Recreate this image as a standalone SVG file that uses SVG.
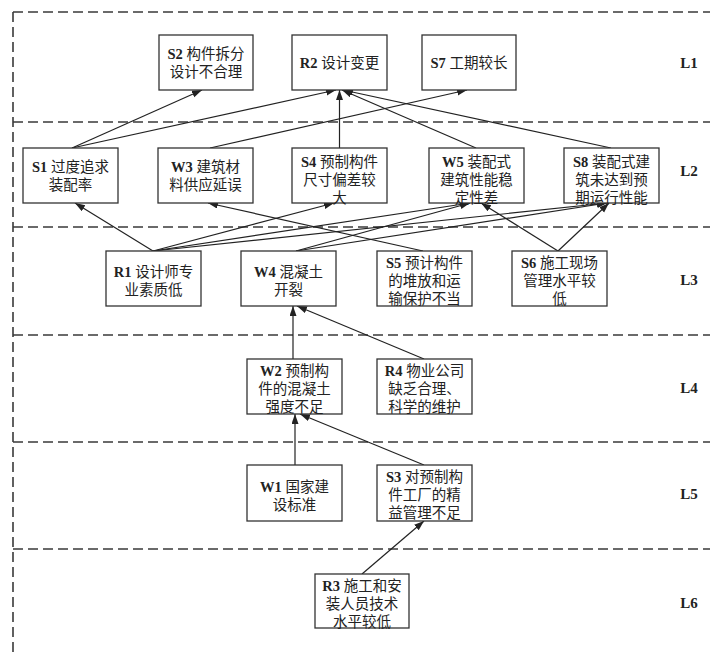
<svg xmlns="http://www.w3.org/2000/svg" width="710" height="654" viewBox="0 0 710 654">
<style>
.bg{fill:#fff}
.band{fill:none;stroke:#3a3a3a;stroke-width:1.6;stroke-dasharray:10,5}
.box{fill:#fff;stroke:#333;stroke-width:1.3}
.t{font-family:"Liberation Serif","Noto Sans CJK SC",serif;font-size:14.5px;fill:#222;text-anchor:middle}
.b{font-weight:bold}
.lv{font-family:"Liberation Serif",serif;font-size:15px;font-weight:bold;fill:#222;text-anchor:middle}
.c line{stroke:#222;stroke-width:1.2;marker-end:url(#arr)}
</style>
<defs>
<marker id="arr" markerUnits="userSpaceOnUse" markerWidth="10" markerHeight="8" refX="10" refY="3.5" orient="auto">
<path d="M0,0 L10,3.5 L0,7 z" fill="#222"/>
</marker>
</defs>
<rect class="bg" x="0" y="0" width="710" height="654"/>
<g id="bands">
<line class="band" x1="13" y1="12" x2="13" y2="654"/>
<line class="band" x1="13" y1="12" x2="710" y2="12"/>
<line class="band" x1="13" y1="122" x2="710" y2="122"/>
<line class="band" x1="13" y1="227" x2="710" y2="227"/>
<line class="band" x1="13" y1="335" x2="710" y2="335"/>
<line class="band" x1="13" y1="442" x2="710" y2="442"/>
<line class="band" x1="13" y1="549" x2="710" y2="549"/>
<text class="lv" x="689" y="68">L1</text>
<text class="lv" x="689" y="176">L2</text>
<text class="lv" x="689" y="285">L3</text>
<text class="lv" x="689" y="393">L4</text>
<text class="lv" x="689" y="499">L5</text>
<text class="lv" x="689" y="608">L6</text>
</g>
<g id="connectors" class="c">
<line x1="72" y1="148" x2="202" y2="90"/>
<line x1="72" y1="148" x2="336" y2="90"/>
<line x1="210" y1="148" x2="467" y2="90"/>
<line x1="339.5" y1="148" x2="339.5" y2="90"/>
<line x1="476" y1="148" x2="342" y2="90"/>
<line x1="611" y1="148" x2="343" y2="90"/>
<line x1="153" y1="251" x2="75" y2="203"/>
<line x1="153" y1="251" x2="334" y2="203"/>
<line x1="153" y1="251" x2="470" y2="203"/>
<line x1="153" y1="251" x2="607" y2="203"/>
<line x1="296" y1="251" x2="470" y2="203"/>
<line x1="296" y1="251" x2="607" y2="203"/>
<line x1="423" y1="251" x2="208" y2="203"/>
<line x1="558" y1="251" x2="481" y2="203"/>
<line x1="558" y1="251" x2="609" y2="203"/>
<line x1="293" y1="359" x2="293" y2="306"/>
<line x1="424" y1="359" x2="297" y2="306"/>
<line x1="295" y1="465" x2="295" y2="414"/>
<line x1="424" y1="465" x2="300" y2="414"/>
<line x1="362" y1="574" x2="424" y2="521"/>
</g>
<g id="S2"><rect class="box" x="159" y="35" width="94" height="55"/><text class="t" x="206" y="59"><tspan class="b">S2</tspan> 构件拆分</text><text class="t" x="206" y="77">设计不合理</text></g>
<g id="R2"><rect class="box" x="292" y="35" width="95" height="55"/><text class="t" x="339.5" y="68"><tspan class="b">R2</tspan> 设计变更</text></g>
<g id="S7"><rect class="box" x="422" y="35" width="94" height="55"/><text class="t" x="469" y="68"><tspan class="b">S7</tspan> 工期较长</text></g>
<g id="S1"><rect class="box" x="23" y="148" width="95" height="55"/><text class="t" x="70.5" y="172"><tspan class="b">S1</tspan> 过度追求</text><text class="t" x="70.5" y="190">装配率</text></g>
<g id="W3"><rect class="box" x="158" y="148" width="95" height="55"/><text class="t" x="205.5" y="172"><tspan class="b">W3</tspan> 建筑材</text><text class="t" x="205.5" y="190">料供应延误</text></g>
<g id="S4"><rect class="box" x="292" y="148" width="95" height="55"/><text class="t" x="339.5" y="167"><tspan class="b">S4</tspan> 预制构件</text><text class="t" x="339.5" y="185">尺寸偏差较</text><text class="t" x="339.5" y="203">大</text></g>
<g id="W5"><rect class="box" x="429" y="148" width="95" height="55"/><text class="t" x="476.5" y="167"><tspan class="b">W5</tspan> 装配式</text><text class="t" x="476.5" y="185">建筑性能稳</text><text class="t" x="476.5" y="203">定性差</text></g>
<g id="S8"><rect class="box" x="564" y="148" width="95" height="55"/><text class="t" x="611.5" y="167"><tspan class="b">S8</tspan> 装配式建</text><text class="t" x="611.5" y="185">筑未达到预</text><text class="t" x="611.5" y="203">期运行性能</text></g>
<g id="R1"><rect class="box" x="106" y="251" width="95" height="55"/><text class="t" x="153.5" y="277"><tspan class="b">R1</tspan> 设计师专</text><text class="t" x="153.5" y="295">业素质低</text></g>
<g id="W4"><rect class="box" x="241" y="251" width="95" height="55"/><text class="t" x="288.5" y="277"><tspan class="b">W4</tspan> 混凝土</text><text class="t" x="288.5" y="295">开裂</text></g>
<g id="S5"><rect class="box" x="377" y="251" width="95" height="55"/><text class="t" x="424.5" y="268"><tspan class="b">S5</tspan> 预计构件</text><text class="t" x="424.5" y="286">的堆放和运</text><text class="t" x="424.5" y="304">输保护不当</text></g>
<g id="S6"><rect class="box" x="512" y="251" width="95" height="55"/><text class="t" x="559.5" y="268"><tspan class="b">S6</tspan> 施工现场</text><text class="t" x="559.5" y="286">管理水平较</text><text class="t" x="559.5" y="304">低</text></g>
<g id="W2"><rect class="box" x="247" y="359" width="95" height="55"/><text class="t" x="294.5" y="376"><tspan class="b">W2</tspan> 预制构</text><text class="t" x="294.5" y="394">件的混凝土</text><text class="t" x="294.5" y="412">强度不足</text></g>
<g id="R4"><rect class="box" x="377" y="359" width="95" height="55"/><text class="t" x="424.5" y="376"><tspan class="b">R4</tspan> 物业公司</text><text class="t" x="424.5" y="394">缺乏合理、</text><text class="t" x="424.5" y="412">科学的维护</text></g>
<g id="W1"><rect class="box" x="247" y="465" width="95" height="56"/><text class="t" x="294.5" y="492"><tspan class="b">W1</tspan> 国家建</text><text class="t" x="294.5" y="510">设标准</text></g>
<g id="S3"><rect class="box" x="377" y="465" width="95" height="56"/><text class="t" x="424.5" y="482"><tspan class="b">S3</tspan> 对预制构</text><text class="t" x="424.5" y="500">件工厂的精</text><text class="t" x="424.5" y="518">益管理不足</text></g>
<g id="R3"><rect class="box" x="315" y="574" width="94" height="54"/><text class="t" x="362" y="591"><tspan class="b">R3</tspan> 施工和安</text><text class="t" x="362" y="609">装人员技术</text><text class="t" x="362" y="627">水平较低</text></g>
</svg>
